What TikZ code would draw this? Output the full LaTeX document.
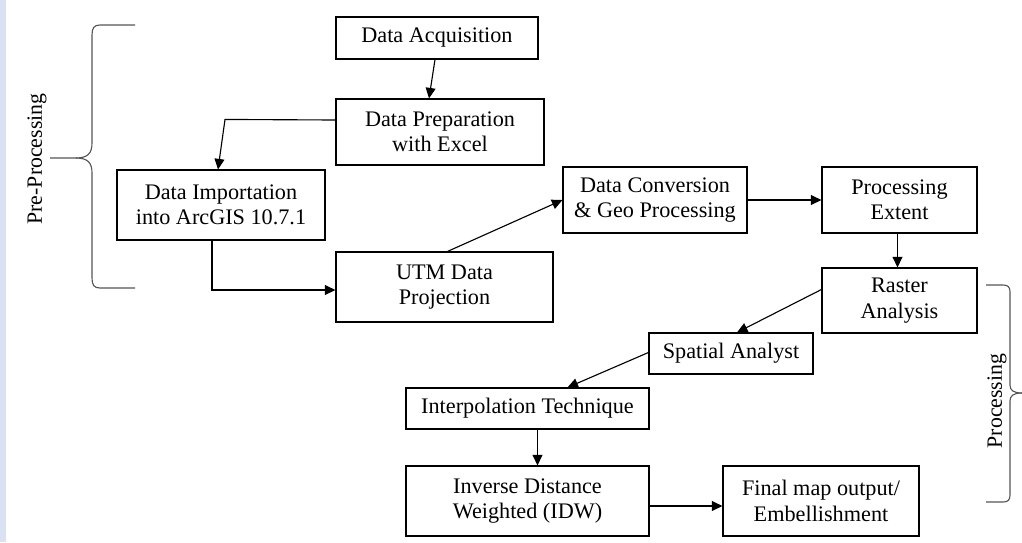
\documentclass[tikz,border=0pt]{standalone}
\usepackage{fontspec}
\setmainfont{Liberation Serif}
\usetikzlibrary{arrows.meta,calc}
\definecolor{stripblue}{HTML}{DAE2F1}
\definecolor{bracegray}{HTML}{555555}
\newlength\pxu
\setlength{\pxu}{0.025cm}
\tikzset{
  stage/.style={draw, line width=0.8pt, align=center, inner sep=0pt,
    font=\fontsize{15.8}{18}\selectfont},
  arr/.style={line width=0.8pt, -{Triangle[length=7.5pt,width=7pt]}},
  brace/.style={bracegray, line width=0.8pt},
  phase/.style={rotate=90, font=\fontsize{15.5}{18}\selectfont}
}
\begin{document}
\begin{tikzpicture}[x=\pxu, y=-\pxu]
        \useasboundingbox (0,0) rectangle (1022,542);
        \fill[stripblue] (0,0) rectangle (6,542);

        \node[stage, minimum width=202\pxu, minimum height=42\pxu] (acq) at (437,38) {Data Acquisition};
        \node[stage, minimum width=208\pxu, minimum height=66\pxu] (prep) at (440,132) {Data Preparation\\with Excel};
        \node[stage, minimum width=208\pxu, minimum height=70\pxu] (imp) at (221,205) {Data Importation\\into ArcGIS 10.7.1};
        \node[stage, minimum width=217\pxu, minimum height=70\pxu] (utm) at (444.5,287) {UTM Data\\Projection};
        \node[stage, minimum width=184\pxu, minimum height=66\pxu] (conv) at (655,200) {Data Conversion\\\& Geo Processing};
        \node[stage, minimum width=155\pxu, minimum height=66\pxu] (ext) at (899.5,200) {Processing\\Extent};
        \node[stage, minimum width=155\pxu, minimum height=65\pxu] (rast) at (899.5,300.5) {Raster\\Analysis};
        \node[stage, minimum width=164\pxu, minimum height=41\pxu] (spat) at (731,353.5) {Spatial Analyst};
        \node[stage, minimum width=243\pxu, minimum height=41\pxu] (interp) at (527.5,408.5) {Interpolation Technique};
        \node[stage, minimum width=243\pxu, minimum height=70\pxu] (idw) at (527.5,501) {Inverse Distance\\Weighted (IDW)};
        \node[stage, minimum width=196\pxu, minimum height=70\pxu] (final) at (821,501) {Final map output/\\Embellishment};

        \draw[arr] ($(acq.south)+(-2,0)$) -- ($(prep.north)+(-11,0)$);
        \draw[arr] ($(prep.west)+(0,-12)$) -- ($(imp.north)+(4,-50)$) -- ($(imp.north)+(-3,0)$);
        \draw[arr] ($(imp.south)+(-9,0)$) |- ($(utm.west)+(0,3)$);
        \draw[arr] ($(utm.north)+(3,0)$) -- (conv.west);
        \draw[arr] (conv.east) -- (ext.west);
        \draw[arr] ($(ext.south)+(-2,0)$) -- ($(rast.north)+(-2,0)$);
        \draw[arr] ($(rast.west)+(0,-11)$) -- ($(spat.north)+(6,0)$);
        \draw[arr] ($(spat.west)+(0,-1)$) -- ($(interp.north)+(40,0)$);
        \draw[arr] ($(interp.south)+(10,0)$) -- ($(idw.north)+(10,0)$);
        \draw[arr] ($(idw.east)+(0,5)$) -- ($(final.west)+(0,5)$);

        \draw[brace] (135,25) -- (100,25) .. controls (94,25) and (92,28) .. (92,35)
          -- (92,143) .. controls (92,153) and (88,158) .. (76,158) -- (50,158);
        \draw[brace] (135,288) -- (100,288) .. controls (94,288) and (92,285) .. (92,278)
          -- (92,173) .. controls (92,163) and (88,158) .. (76,158);
        \node[phase] (pre) at (37,159) {Pre-Processing};

        \draw[brace] (986,285) -- (1003,285) .. controls (1008,285) and (1010,287) .. (1010,292)
          -- (1010,385) .. controls (1010,390) and (1013,393) .. (1022,393);
        \draw[brace] (986,502) -- (1003,502) .. controls (1008,502) and (1010,500) .. (1010,495)
          -- (1010,401) .. controls (1010,396) and (1013,393) .. (1022,393);
        \node[phase] (proc) at (997,401) {Processing};
      \end{tikzpicture}
\end{document}
